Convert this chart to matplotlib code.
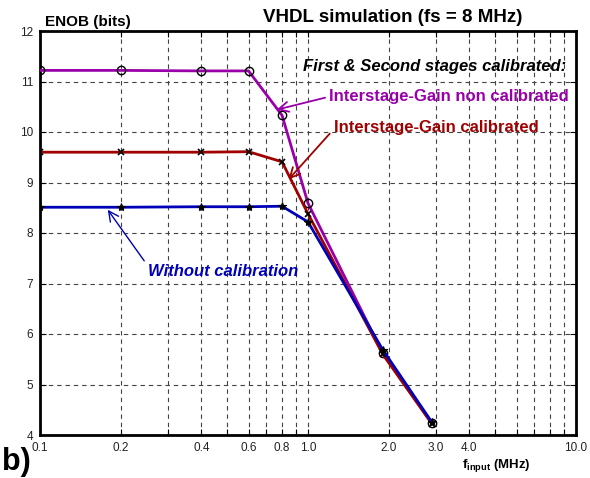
import numpy as np
import matplotlib
matplotlib.use("Agg")
import matplotlib.pyplot as plt

plt.rcParams['font.family'] = ['Liberation Sans', 'DejaVu Sans']
plt.rcParams['mathtext.fontset'] = 'custom'
plt.rcParams['mathtext.rm'] = 'Liberation Sans'
plt.rcParams['mathtext.bf'] = 'Liberation Sans:bold'

# input frequency (MHz)
freq = [0.1, 0.2, 0.4, 0.6, 0.8, 1.0, 1.9, 2.9]
# ENOB (bits)
enob_ig_noncal = [11.22, 11.22, 11.21, 11.21, 10.33, 8.59, 5.62, 4.24]
enob_ig_cal = [9.60, 9.60, 9.60, 9.61, 9.41, 8.38, 5.60, 4.22]
enob_nocal = [8.51, 8.51, 8.52, 8.52, 8.53, 8.22, 5.69, 4.25]

xtick_vals = [0.1, 0.2, 0.3, 0.4, 0.5, 0.6, 0.7, 0.8, 0.9, 1.0,
              2.0, 3.0, 4.0, 5.0, 6.0, 7.0, 8.0, 9.0, 10.0]
xtick_labels = ["0.1", "0.2", "", "0.4", "", "0.6", "", "0.8", "", "1.0",
                "2.0", "3.0", "4.0", "", "", "", "", "", "10.0"]
ytick_vals = [4, 5, 6, 7, 8, 9, 10, 11, 12]

c_purple = "#9900AA"
c_red = "#A00000"
c_blue = "#0000B8"

fig = plt.figure(figsize=(5.9, 4.78), dpi=100)
ax = fig.add_axes([40/590, 1 - 435/478, 536/590, 404/478])

ax.plot(freq, enob_ig_noncal, color=c_purple, lw=2, marker="o", ms=6,
        mfc="none", mec="black", mew=1.0, zorder=3)
ax.plot(freq, enob_nocal, color=c_blue, lw=2, marker="*", ms=6,
        mfc="black", mec="black", mew=0.8, zorder=4)
ax.plot(freq, enob_ig_cal, color=c_red, lw=2, marker="x", ms=4,
        mec="black", mew=1.2, zorder=3)

ax.set_xscale("log")
ax.set_xlim(0.1, 10)
ax.set_ylim(4, 12)
ax.set_xticks(xtick_vals)
ax.set_xticklabels(xtick_labels)
ax.minorticks_off()
ax.set_yticks(ytick_vals)
ax.tick_params(direction="in", length=4, width=0.8, labelsize=8.5,
               labelcolor="#222222", top=True, right=True, pad=5)
ax.grid(True, which="major", linestyle=(0, (4, 3.5)), color="#444444", lw=0.8)
for s in ax.spines.values():
    s.set_linewidth(2)
    s.set_color("black")

ax.text(0.954, 11.29, "First & Second stages calibrated:", fontsize=12,
        fontweight="bold", fontstyle="italic", color="black",
        ha="left", va="center", clip_on=False)

ax.annotate("Interstage-Gain non calibrated", xy=(0.763, 10.44),
            xytext=(1.20, 10.70), fontsize=12, fontweight="bold",
            color=c_purple, ha="left", va="center", annotation_clip=False,
            arrowprops=dict(arrowstyle="->,head_length=0.6,head_width=0.3",
                            color=c_purple, lw=1.3, relpos=(0, 0.5),
                            shrinkA=1, shrinkB=0))
ax.annotate("Interstage-Gain calibrated", xy=(0.846, 9.06),
            xytext=(1.245, 10.08), fontsize=12, fontweight="bold",
            color=c_red, ha="left", va="center", annotation_clip=False,
            arrowprops=dict(arrowstyle="->,head_length=0.6,head_width=0.3",
                            color=c_red, lw=1.3, relpos=(0, 0.4),
                            shrinkA=1, shrinkB=0))
ax.annotate("Without calibration", xy=(0.179, 8.46),
            xytext=(0.2525, 7.23), fontsize=12, fontweight="bold",
            fontstyle="italic", color=c_blue, ha="left", va="center",
            arrowprops=dict(arrowstyle="->,head_length=0.6,head_width=0.3",
                            color=c_blue, lw=1.0, relpos=(0, 0.9),
                            shrinkA=1, shrinkB=0))

fig.text(393/590, 1 - 18/478, "VHDL simulation (fs = 8 MHz)", fontsize=13.5,
         fontweight="bold", ha="center", va="center")
fig.text(45/590, 1 - 22/478, "ENOB (bits)", fontsize=11, fontweight="bold",
         ha="left", va="center")
fig.text(462/590, 1 - 465/478, r"$\mathbf{f}_{\mathbf{input}}$ (MHz)",
         fontsize=9.5, fontweight="bold", ha="left", va="center")
fig.text(2/590, 1/478, "b)", fontsize=22, fontweight="bold",
         ha="left", va="bottom")

fig.savefig("out.png", dpi=100)
